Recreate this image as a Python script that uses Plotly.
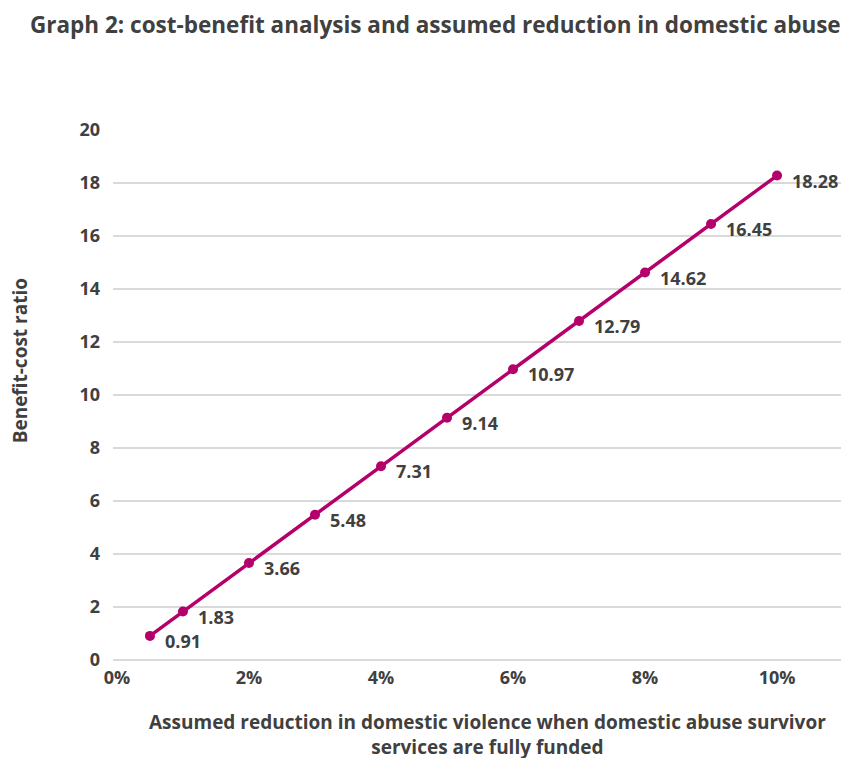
import plotly.graph_objects as go

reduction_pct = [0.5, 1, 2, 3, 4, 5, 6, 7, 8, 9, 10]
bcr = [0.91, 1.83, 3.66, 5.48, 7.31, 9.14, 10.97, 12.79, 14.62, 16.45, 18.28]
x_ticks = [0, 2, 4, 6, 8, 10]
x_tick_labels = ["0%", "2%", "4%", "6%", "8%", "10%"]
y_ticks = [0, 2, 4, 6, 8, 10, 12, 14, 16, 18, 20]

LINE = "#b5006b"
TXT = "#404040"
FONT = "Open Sans"

# page body has an 8px margin; figure sized to fill the rest of the window
W, H = 841, 750

fig = go.Figure()
fig.add_trace(go.Scatter(
    x=reduction_pct, y=bcr, mode="lines+markers",
    line=dict(color=LINE, width=3.5),
    marker=dict(color=LINE, size=10),
    cliponaxis=False, hoverinfo="x+y",
))

for xv, yv in zip(reduction_pct, bcr):
    fig.add_annotation(x=xv, y=yv, text=f"{yv:.2f}", showarrow=False,
                       xanchor="left", yanchor="middle", xshift=13, yshift=-5,
                       font=dict(family=FONT, size=18, color=TXT, weight="bold"))

fig.add_annotation(xref="paper", yref="paper", x=0.5095, y=-0.089,
                   text="Assumed reduction in domestic violence when domestic abuse survivor<br>services are fully funded",
                   showarrow=False, xanchor="center", yanchor="top",
                   font=dict(family=FONT, size=19, color=TXT, weight="bold"))
fig.add_annotation(xref="paper", yref="paper", x=-0.126, y=0.564,
                   text="Benefit-cost ratio", textangle=-90, showarrow=False,
                   xanchor="center", yanchor="middle",
                   font=dict(family=FONT, size=19, color=TXT, weight="bold"))

fig.update_layout(
    width=W, height=H,
    margin=dict(l=105, r=0, t=122, b=98),
    paper_bgcolor="white", plot_bgcolor="white",
    showlegend=False,
    title=dict(text="Graph 2: cost-benefit analysis and assumed reduction in domestic abuse",
               x=22 / W, xanchor="left", xref="container", y=1 - 17 / H, yanchor="middle",
               yref="container",
               font=dict(family=FONT, size=22.5, color=TXT, weight="bold")),
    xaxis=dict(range=[-0.06, 11.09], tickvals=x_ticks, ticktext=x_tick_labels,
               showgrid=False, zeroline=False, showline=False, ticks="",
               tickfont=dict(family=FONT, size=18, color=TXT, weight="bold"),
               ticklabelstandoff=5),
    yaxis=dict(range=[0, 20], tickvals=y_ticks, showgrid=True, gridcolor="#d9d9d9",
               gridwidth=1.5, zeroline=True, zerolinecolor="#d9d9d9", zerolinewidth=1.5,
               showline=False, ticks="", ticklabelstandoff=12,
               tickfont=dict(family=FONT, size=18, color=TXT, weight="bold")),
)

fig.write_html("out.html")
